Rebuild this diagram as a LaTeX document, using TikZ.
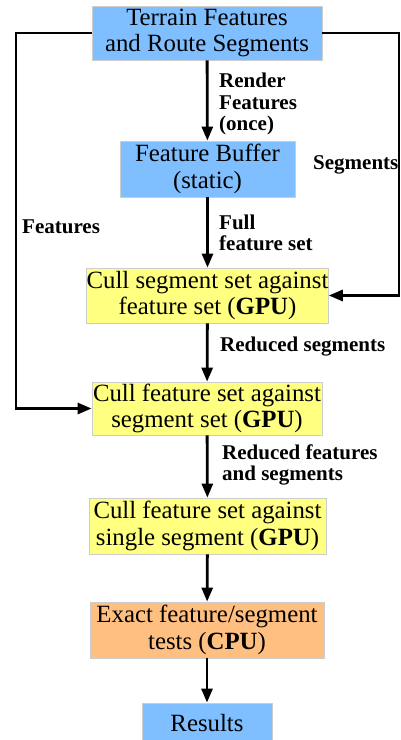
\documentclass[tikz,border=0pt]{standalone}
\usepackage{fontspec}
\setmainfont{Liberation Serif}
\usetikzlibrary{arrows.meta}
\definecolor{boxblue}{RGB}{128,191,255}
\definecolor{boxyellow}{RGB}{255,255,128}
\definecolor{boxorange}{RGB}{255,191,128}
\definecolor{boxedge}{RGB}{205,205,205}
\tikzset{
  stage/.style={draw=boxedge, line width=0.8pt, inner sep=0pt, align=center,
    font=\fontsize{24.8}{26.7}\selectfont},
  bluebox/.style={stage, fill=boxblue},
  yellowbox/.style={stage, fill=boxyellow},
  orangebox/.style={stage, fill=boxorange},
  flow/.style={line width=2.8pt, -{Triangle[length=14pt,width=11pt]}},
  note/.style={anchor=west, align=left, inner sep=0pt,
    font=\fontsize{21}{21.5}\selectfont\bfseries},
}
\begin{document}
\begin{tikzpicture}[x=1pt,y=-1pt]
  \useasboundingbox (0,0) rectangle (401,740);

  \node[bluebox, minimum width=230pt, minimum height=54pt] (terrain) at (207,33)
    {Terrain Features\\and Route Segments};
  \node[bluebox, minimum width=175pt, minimum height=56pt] (buffer) at (207.5,169)
    {Feature Buffer\\(static)};
  \node[yellowbox, minimum width=241pt, minimum height=55pt] (cullseg) at (207.5,295.5)
    {Cull segment set against\\feature set (\textbf{GPU})};
  \node[yellowbox, minimum width=230pt, minimum height=53pt] (cullfeat) at (207,408.5)
    {Cull feature set against\\segment set (\textbf{GPU})};
  \node[yellowbox, minimum width=237pt, minimum height=56pt] (cullsingle) at (207.5,526)
    {Cull feature set against\\single segment (\textbf{GPU})};
  \node[orangebox, minimum width=234pt, minimum height=56pt] (exact) at (207,630)
    {Exact feature/segment\\tests (\textbf{CPU})};
  \node[bluebox, minimum width=130pt, minimum height=40pt] (results) at (207,723)
    {Results};

  \coordinate (lefttop) at (16,33);
  \coordinate (leftbot) at (16,408.5);
  \coordinate (righttop) at (399,33);
  \coordinate (rightbot) at (399,295.5);

  \draw[flow] (terrain) -- (buffer);
  \draw[flow] (buffer) -- (cullseg);
  \draw[flow] (cullseg) -- (cullfeat);
  \draw[flow] (cullfeat) -- (cullsingle);
  \draw[flow] (cullsingle) -- (exact);
  \draw[flow] (exact) -- (results);

  \draw[flow] (terrain.west) -- (lefttop) -- (leftbot) -- (cullfeat.west);
  \draw[flow] (terrain.east) -- (righttop) -- (rightbot) -- (cullseg.east);

  \node[note] (lrender) at (219,104) {Render\\Features\\(once)};
  \node[note] (lsegs) at (313,165) {Segments};
  \node[note] (lfeats) at (22,227) {Features};
  \node[note] (lfull) at (219,233) {Full\\feature set};
  \node[note] (lredseg) at (220,347) {Reduced segments};
  \node[note] (lredboth) at (222,465) {Reduced features\\and segments};
\end{tikzpicture}
\end{document}
